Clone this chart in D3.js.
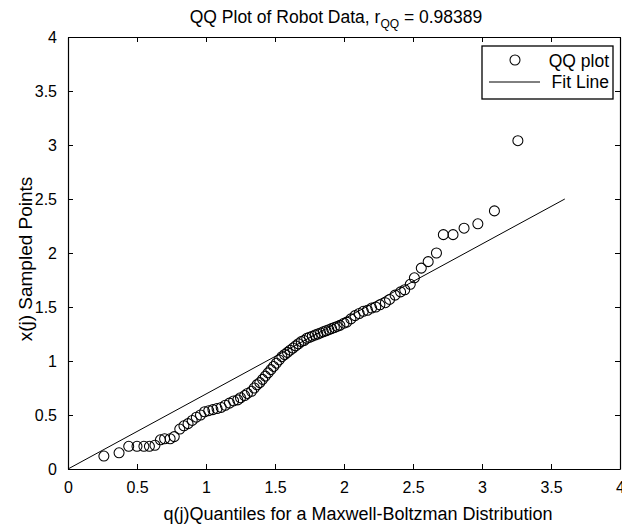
<!DOCTYPE html>
<html>
<head>
<meta charset="utf-8">
<script src="https://cdn.jsdelivr.net/npm/d3@7"></script>
<style>
  body { margin: 0; background: #fff; }
  svg { display: block; font-family: "Liberation Sans", Arial, Helvetica, sans-serif; }
</style>
</head>
<body>
<div id="chart"></div>
<script>
// theoretical quantiles q(j) and sorted sample x(j)
const qQuantiles = [0.26, 0.37, 0.44, 0.50, 0.55, 0.59, 0.63, 0.67, 0.70, 0.74, 0.77, 0.81, 0.84, 0.87, 0.90, 0.93,
  0.96, 0.99, 1.02, 1.05, 1.08, 1.11, 1.14, 1.17, 1.20, 1.23, 1.25, 1.28, 1.30, 1.33, 1.35, 1.37, 1.39, 1.41,
  1.43, 1.45, 1.47, 1.49, 1.51, 1.53, 1.55, 1.57, 1.59, 1.61, 1.63, 1.65, 1.67, 1.69, 1.71, 1.73, 1.75, 1.77,
  1.79, 1.81, 1.83, 1.85, 1.87, 1.89, 1.91, 1.93, 1.95, 1.97, 2.00, 2.02, 2.05, 2.08, 2.11, 2.14, 2.17, 2.20,
  2.23, 2.26, 2.30, 2.33, 2.37, 2.41, 2.44, 2.48, 2.51, 2.56, 2.61, 2.67, 2.72, 2.79, 2.87, 2.97, 3.09, 3.26];
const xSampled = [0.12, 0.15, 0.21, 0.21, 0.21, 0.21, 0.22, 0.27, 0.28, 0.28, 0.30, 0.37, 0.40, 0.42, 0.45, 0.48,
  0.50, 0.53, 0.54, 0.55, 0.56, 0.57, 0.59, 0.61, 0.63, 0.64, 0.66, 0.68, 0.70, 0.72, 0.75, 0.78, 0.80, 0.83,
  0.86, 0.89, 0.92, 0.95, 0.98, 1.01, 1.04, 1.06, 1.08, 1.10, 1.12, 1.14, 1.16, 1.18, 1.19, 1.21, 1.22, 1.23,
  1.24, 1.25, 1.26, 1.27, 1.28, 1.29, 1.30, 1.31, 1.32, 1.33, 1.35, 1.36, 1.39, 1.42, 1.44, 1.46, 1.47, 1.49,
  1.50, 1.52, 1.54, 1.57, 1.61, 1.64, 1.66, 1.71, 1.77, 1.86, 1.92, 2.00, 2.17, 2.17, 2.23, 2.27, 2.39, 3.04];
// fit line end points
const fitQ = [0, 3.6];
const fitX = [0, 2.5];
const xTicks = [0, 0.5, 1, 1.5, 2, 2.5, 3, 3.5, 4];
const yTicks = [0, 0.5, 1, 1.5, 2, 2.5, 3, 3.5, 4];
const legendLabels = ["QQ plot", "Fit Line"];

const width = 622, height = 528;
const margin = { top: 37, right: 2, bottom: 59, left: 68 };
const innerW = width - margin.left - margin.right;
const innerH = height - margin.top - margin.bottom;

const svg = d3.select("#chart").append("svg")
  .attr("width", width)
  .attr("height", height);

const g = svg.append("g")
  .attr("transform", `translate(${margin.left},${margin.top})`);

const x = d3.scaleLinear().domain([0, 4]).range([0, innerW]);
const y = d3.scaleLinear().domain([0, 4]).range([innerH, 0]);

const tickLen = 5;
const fmt = d => String(d);

// four-sided box, ticks pointing inward like matlab
const bottomAxis = g.append("g")
  .attr("transform", `translate(0,${innerH})`)
  .call(d3.axisBottom(x).tickValues(xTicks).tickFormat(fmt).tickSizeInner(-tickLen).tickSizeOuter(0).tickPadding(13));
const topAxis = g.append("g")
  .call(d3.axisTop(x).tickValues(xTicks).tickFormat("").tickSizeInner(-tickLen).tickSizeOuter(0));
const leftAxis = g.append("g")
  .call(d3.axisLeft(y).tickValues(yTicks).tickFormat(fmt).tickSizeInner(-tickLen).tickSizeOuter(0).tickPadding(11));
const rightAxis = g.append("g")
  .attr("transform", `translate(${innerW},0)`)
  .call(d3.axisRight(y).tickValues(yTicks).tickFormat("").tickSizeInner(-tickLen).tickSizeOuter(0));

[bottomAxis, topAxis, leftAxis, rightAxis].forEach(a => {
  a.selectAll("path.domain").attr("stroke", "#000").attr("stroke-width", 1.2);
  a.selectAll(".tick line").attr("stroke", "#000").attr("stroke-width", 1);
  a.selectAll("text").attr("fill", "#000").style("font-size", "16px");
});

// fit line
const fitData = fitQ.map((q, i) => ({ q: q, v: fitX[i] }));
g.append("path")
  .datum(fitData)
  .attr("fill", "none")
  .attr("stroke", "#000")
  .attr("stroke-width", 1)
  .attr("d", d3.line().x(d => x(d.q)).y(d => y(d.v)));

// qq points
const pts = qQuantiles.map((q, i) => ({ q: q, v: xSampled[i] }));
g.selectAll("circle.qq")
  .data(pts)
  .enter().append("circle")
  .attr("class", "qq")
  .attr("cx", d => x(d.q))
  .attr("cy", d => y(d.v))
  .attr("r", 5)
  .attr("fill", "none")
  .attr("stroke", "#000")
  .attr("stroke-width", 1.05);

// legend (top right, inside the box)
const legend = g.append("g").attr("transform", "translate(414,9)");
legend.append("rect")
  .attr("x", 0).attr("y", 0)
  .attr("width", 131).attr("height", 53)
  .attr("fill", "#fff")
  .attr("stroke", "#000")
  .attr("stroke-width", 1.3);
legend.append("circle")
  .attr("cx", 33).attr("cy", 14).attr("r", 5)
  .attr("fill", "none").attr("stroke", "#000").attr("stroke-width", 1.05);
legend.append("line")
  .attr("x1", 7).attr("x2", 58).attr("y1", 36).attr("y2", 36)
  .attr("stroke", "#000").attr("stroke-width", 1);
legend.selectAll("text.leg")
  .data(legendLabels)
  .enter().append("text")
  .attr("class", "leg")
  .attr("x", 127)
  .attr("y", (d, i) => 21 + i * 21)
  .attr("text-anchor", "end")
  .style("font-size", "17.5px")
  .text(d => d);

// title with subscript
const title = svg.append("text")
  .attr("x", margin.left + innerW / 2 - 8)
  .attr("y", 23)
  .attr("text-anchor", "middle")
  .style("font-size", "17.5px");
title.append("tspan").text("QQ Plot of Robot Data, r");
title.append("tspan").attr("dy", 5).style("font-size", "12px").text("QQ");
title.append("tspan").attr("dy", -5).text(" = 0.98389");

// axis labels
svg.append("text")
  .attr("x", 358)
  .attr("y", 520)
  .attr("text-anchor", "middle")
  .style("font-size", "18px")
  .text("q(j)Quantiles for a Maxwell-Boltzman Distribution");

svg.append("text")
  .attr("transform", `translate(32,${margin.top + innerH / 2 + 6}) rotate(-90)`)
  .attr("text-anchor", "middle")
  .style("font-size", "19px")
  .text("x(j) Sampled Points");
</script>
</body>
</html>
